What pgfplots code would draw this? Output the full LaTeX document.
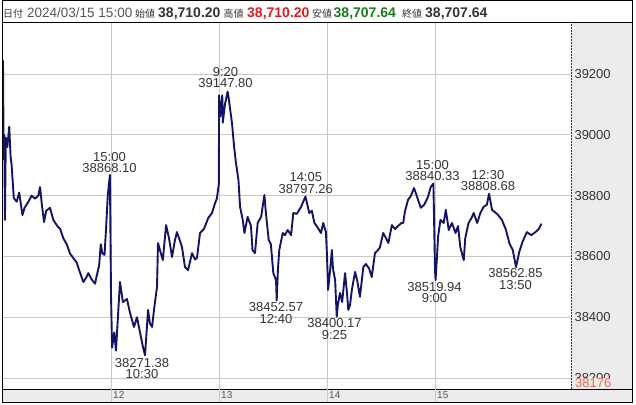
\documentclass[border=0pt]{standalone}
\usepackage{fontspec}
\setmainfont{Liberation Sans}
\newfontfamily\jp{Noto Sans CJK JP}
\usepackage{pgfplots}
\pgfplotsset{compat=1.18}
\definecolor{navy}{RGB}{20,20,100}
\definecolor{gridc}{RGB}{200,200,200}
\definecolor{panel}{RGB}{236,236,236}
\definecolor{txt}{RGB}{51,51,51}
\definecolor{datec}{RGB}{85,85,85}
\definecolor{hi}{RGB}{220,30,30}
\definecolor{lo}{RGB}{30,120,30}
\definecolor{minc}{RGB}{226,110,80}
\newcommand{\lab}{\fontsize{13bp}{11.5bp}\selectfont}
\begin{document}
\begin{tikzpicture}
\useasboundingbox (0,0) rectangle (636bp,405bp);
\begin{scope}[x=1bp,y=1bp]
  \fill[panel] (571,16) rectangle (632,383);
  \fill[panel] (2.5,3) rectangle (632,16);
\end{scope}
\begin{axis}[
    at={(3bp,16bp)}, anchor=south west,
    scale only axis, width=568bp, height=367bp,
    xmin=11, xmax=16.259, ymin=38164, ymax=39371,
    axis line style={draw=none},
    xtick={12,13,14,15}, xticklabels={},
    ytick={38200,38400,...,39200},
    scaled y ticks=false,
    yticklabel pos=right,
    major tick length=0pt,
    grid=major,
    major grid style={gridc, line width=0.8bp},
    /pgf/number format/.cd, 1000 sep={}, assume math mode=true,
    /pgfplots/.cd,
    yticklabel style={font=\fontsize{13bp}{14bp}\selectfont, text=txt},
  ]
  % 5-min bars, traced as a line through high/low/close swings
  \addplot[navy, line width=1.9bp, line join=round, mark=none] coordinates {
    (11.000,39245)(11.006,38920)(11.012,39000)(11.018,38720)(11.026,38990)
    (11.040,38960)(11.058,39027)(11.070,38930)(11.080,38900)(11.100,38792)
    (11.127,38780)(11.150,38810)(11.180,38736)(11.200,38760)(11.235,38780)
    (11.265,38800)(11.296,38790)(11.327,38800)(11.343,38828)(11.360,38770)
    (11.380,38713)(11.400,38750)(11.435,38760)(11.466,38720)(11.503,38700)
    (11.530,38690)(11.558,38660)(11.590,38640)(11.620,38610)(11.650,38595)
    (11.682,38580)(11.710,38550)(11.744,38516)(11.770,38530)(11.790,38545)
    (11.820,38525)(11.852,38510)(11.870,38540)(11.890,38570)(11.905,38640)
    (11.920,38610)(11.940,38605)(11.954,38690)(11.970,38800)(11.990,38868)
    (12.000,38473)(12.010,38300)(12.030,38350)(12.046,38290)(12.083,38516)
    (12.110,38450)(12.148,38460)(12.176,38414)(12.213,38368)(12.240,38400)
    (12.270,38348)(12.296,38302)(12.315,38275)(12.343,38424)(12.360,38380)
    (12.380,38368)(12.400,38430)(12.426,38500)(12.435,38644)(12.454,38620)
    (12.480,38588)(12.510,38703)(12.537,38660)(12.565,38598)(12.590,38650)
    (12.610,38680)(12.640,38650)(12.657,38631)(12.685,38565)(12.713,38555)
    (12.730,38580)(12.750,38611)(12.778,38590)(12.796,38595)(12.824,38677)
    (12.860,38690)(12.900,38726)(12.935,38743)(12.963,38775)(12.980,38790)
    (12.999,38840)
    (13.000,39130)(13.010,39060)(13.030,39130)(13.035,39040)(13.055,39100)
    (13.080,39142)(13.090,39120)(13.100,39092)(13.120,39039)(13.140,38960)
    (13.157,38907)(13.180,38851)(13.195,38763)(13.220,38720)(13.235,38677)
    (13.265,38730)(13.296,38700)(13.310,38621)(13.333,38611)(13.358,38710)
    (13.390,38730)(13.420,38802)(13.435,38740)(13.460,38654)(13.480,38640)
    (13.503,38545)(13.528,38522)(13.534,38455)(13.546,38560)(13.558,38621)
    (13.590,38677)(13.610,38670)(13.636,38687)(13.667,38670)(13.688,38743)
    (13.720,38740)(13.760,38763)(13.800,38797)(13.836,38743)(13.860,38750)
    (13.883,38710)(13.910,38697)(13.944,38677)(13.965,38710)(13.984,38687)
    (13.990,38680)
    (14.000,38600)(14.010,38490)(14.030,38560)(14.045,38621)(14.055,38560)
    (14.075,38522)(14.090,38402)(14.100,38440)(14.120,38480)(14.140,38450)
    (14.167,38545)(14.185,38480)(14.197,38424)(14.213,38440)(14.230,38490)
    (14.260,38549)(14.280,38520)(14.305,38467)(14.336,38565)(14.360,38575)
    (14.390,38560)(14.414,38532)(14.444,38611)(14.470,38620)(14.490,38630)
    (14.520,38677)(14.546,38660)(14.568,38644)(14.600,38703)(14.630,38690)
    (14.657,38700)(14.690,38710)(14.706,38710)(14.720,38746)(14.750,38786)
    (14.778,38800)(14.805,38825)(14.830,38800)(14.868,38760)(14.900,38770)
    (14.935,38796)(14.960,38828)(14.985,38840)
    (15.000,38555)(15.005,38522)(15.020,38610)(15.028,38664)(15.050,38720)
    (15.080,38710)(15.100,38753)(15.127,38687)(15.157,38710)(15.190,38677)
    (15.213,38700)(15.234,38631)(15.266,38588)(15.280,38660)(15.310,38710)
    (15.336,38725)(15.358,38743)(15.390,38710)(15.420,38743)(15.450,38763)
    (15.480,38770)(15.500,38806)(15.528,38753)(15.574,38740)(15.620,38720)
    (15.657,38687)(15.688,38644)(15.720,38621)(15.750,38565)(15.780,38615)
    (15.810,38648)(15.850,38680)(15.890,38670)(15.930,38680)(15.960,38690)
    (15.985,38708)
  };
\end{axis}
\begin{scope}[x=1bp,y=1bp]
  % frames
  \draw[black, line width=0.8bp] (2.5,404.5) -- (632,404.5) -- (632,3) -- (2.5,3) -- cycle;
  \draw[black, line width=0.8bp] (2.5,383) -- (632,383);
  \draw[black, line width=0.8bp] (2.5,16) -- (632,16);
  \draw[black!80, line width=0.8bp, dash pattern=on 1.5bp off 1.5bp] (571,16) -- (571,383);
  \foreach \gx in {111,219,327,435} \draw[gridc, line width=0.8bp] (\gx,3) -- (\gx,16);
  % date labels
  \foreach \gx/\dd in {111/12,219/13,327/14,435/15}
    \node[anchor=west, inner sep=0, text=datec, font=\fontsize{10bp}{12bp}\selectfont] at (\gx+2,9.5) {\dd};
  % axis minimum marker
  \node[anchor=west, inner xsep=0, inner ysep=0.6bp, fill=panel, text=minc,
        font=\fontsize{13bp}{14bp}\selectfont] at (575,21.5) {38176};
  % header
  \tikzset{hd/.style={anchor=base west, inner sep=0}}
  \node[hd, font=\jp\fontsize{10bp}{12bp}\selectfont, text=txt] at (3,387.7) {日付};
  \node[hd, font=\fontsize{13.5bp}{14bp}\selectfont, text=datec] at (27,387.7) {2024/03/15 15:00};
  \node[hd, font=\jp\fontsize{10bp}{12bp}\selectfont, text=txt] at (135,387.7) {始値};
  \node[hd, font=\bfseries\fontsize{14bp}{14bp}\selectfont, text=txt] at (158,387.7) {38,710.20};
  \node[hd, font=\jp\fontsize{10bp}{12bp}\selectfont, text=txt] at (223.5,387.7) {高値};
  \node[hd, font=\bfseries\fontsize{14bp}{14bp}\selectfont, text=hi] at (247,387.7) {38,710.20};
  \node[hd, font=\jp\fontsize{10bp}{12bp}\selectfont, text=txt] at (312,387.7) {安値};
  \node[hd, font=\bfseries\fontsize{14bp}{14bp}\selectfont, text=lo] at (333.5,387.7) {38,707.64};
  \node[hd, font=\jp\fontsize{10bp}{12bp}\selectfont, text=txt] at (402,387.7) {終値};
  \node[hd, font=\bfseries\fontsize{14bp}{14bp}\selectfont, text=txt] at (425,387.7) {38,707.64};
  % high / low annotations
  \tikzset{an/.style={align=center, inner sep=0, text=txt, font=\lab}}
  \node[an] at (109.5,242.5) {15:00\\38868.10};
  \node[an] at (225.5,327.5) {9:20\\39147.80};
  \node[an] at (305.8,222) {14:05\\38797.26};
  \node[an] at (432.5,234.5) {15:00\\38840.33};
  \node[an] at (488,224.5) {12:30\\38808.68};
  \node[an] at (142,36.5) {38271.38\\10:30};
  \node[an] at (276,92) {38452.57\\12:40};
  \node[an] at (334.5,76) {38400.17\\9:25};
  \node[an] at (434.5,112.5) {38519.94\\9:00};
  \node[an] at (515.5,126) {38562.85\\13:50};
\end{scope}
\end{tikzpicture}
\end{document}
